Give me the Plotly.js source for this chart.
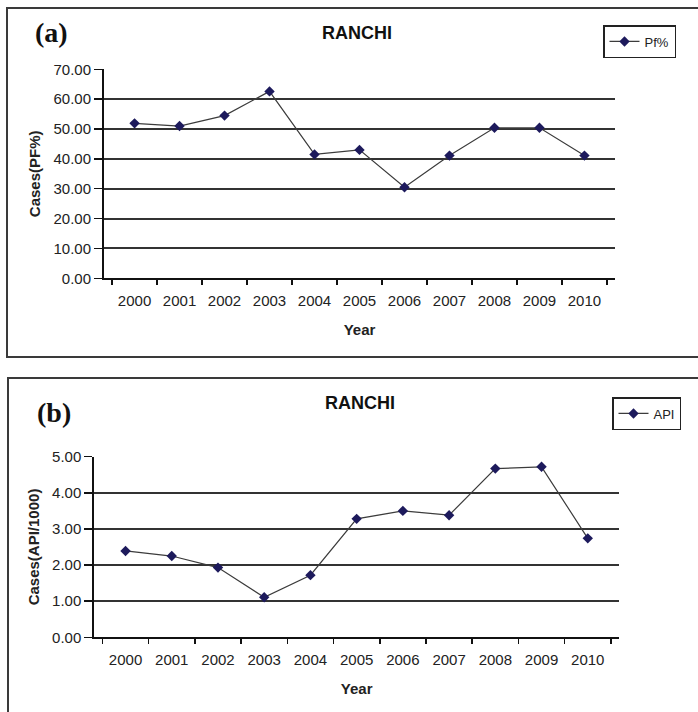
<!DOCTYPE html>
<html>
<head>
<meta charset="utf-8">
<script src="https://cdn.plot.ly/plotly-3.0.1.min.js"></script>
<style>
  html, body { margin: 0; padding: 0; background: #fff; }
  #chart { width: 698px; height: 712px; }
</style>
</head>
<body>
<div id="chart"></div>
<script>
// Ranchi district malaria indicators, 2000-2010
const years = ['2000', '2001', '2002', '2003', '2004', '2005', '2006', '2007', '2008', '2009', '2010'];
const pfPercent = [51.9, 51.0, 54.5, 62.6, 41.5, 43.0, 30.5, 41.1, 50.4, 50.4, 41.1];
const api = [2.39, 2.25, 1.93, 1.11, 1.72, 3.28, 3.50, 3.38, 4.67, 4.72, 2.74];

const W = 698, H = 712;
const px = v => v / W;          // horizontal pixel -> paper
const py = v => 1 - v / H;      // vertical pixel (from top) -> paper

const FONT = 'Liberation Sans, Arial, sans-serif';
const TEXT = '#222';
const markerColor = '#1d1a5c';
const lineColor = '#3c3c3c';

function series(y, name, xa, ya, legend) {
  return {
    x: years, y: y, name: name, type: 'scatter', mode: 'lines+markers',
    xaxis: xa, yaxis: ya, legend: legend, showlegend: true,
    line: { color: lineColor, width: 1.2 },
    marker: { symbol: 'diamond', size: 8, color: markerColor }
  };
}

function xAxis(domain, anchor) {
  return {
    type: 'category', domain: domain, anchor: anchor,
    tickson: 'boundaries', ticks: 'outside', ticklen: 5, tickwidth: 1.5, tickcolor: '#111',
    ticklabelstandoff: 8,
    showline: true, linecolor: '#111', linewidth: 2, showgrid: false, zeroline: false,
    tickfont: { family: FONT, size: 15, color: TEXT },
    title: { text: '<b>Year</b>', font: { family: FONT, size: 15, color: TEXT }, standoff: 16 },
    automargin: true, fixedrange: true
  };
}

function yAxis(domain, anchor, range, dtick, title) {
  return {
    domain: domain, anchor: anchor, range: range, dtick: dtick, tickformat: '.2f',
    ticks: 'outside', ticklen: 8, tickwidth: 1.5, tickcolor: '#111',
    showline: true, linecolor: '#111', linewidth: 2, zeroline: false,
    showgrid: true, gridcolor: '#333', gridwidth: 2,
    tickfont: { family: FONT, size: 15, color: TEXT },
    title: { text: '<b>' + title + '</b>', font: { family: FONT, size: 15, color: TEXT }, standoff: 9 },
    automargin: true, fixedrange: true
  };
}

const data = [
  series(pfPercent, 'Pf%', 'x', 'y', 'legend'),
  series(api, 'API', 'x2', 'y2', 'legend2')
];

const legendStyle = (x, y) => ({
  x: x, y: y, xanchor: 'left', yanchor: 'top',
  bgcolor: '#fff', bordercolor: '#222', borderwidth: 1.5,
  font: { family: FONT, size: 13, color: TEXT },
  tracegroupgap: 0, itemwidth: 30
});

function label(text, x, y, size, family) {
  return {
    text: text, xref: 'paper', yref: 'paper', x: px(x), y: py(y),
    xanchor: 'center', yanchor: 'middle', showarrow: false,
    font: { family: family, size: size, color: '#111' }
  };
}

const layout = {
  width: W, height: H,
  margin: { l: 0, r: 0, t: 0, b: 0, autoexpand: false },
  paper_bgcolor: '#fff', plot_bgcolor: '#fff',
  showlegend: true,
  xaxis: xAxis([px(104), px(615)], 'y'),
  yaxis: yAxis([py(278.3), py(69.3)], 'x', [0, 70], 10, 'Cases(PF%)'),
  xaxis2: xAxis([px(94.3), px(619)], 'y2'),
  yaxis2: yAxis([py(637.3), py(456.7)], 'x2', [0, 5], 1, 'Cases(API/1000)'),
  legend: legendStyle(px(603), py(25)),
  legend2: legendStyle(px(612), py(397)),
  annotations: [
    label('<b>(a)</b>', 51, 32, 28, 'Liberation Serif, Times New Roman, serif'),
    label('<b>(b)</b>', 54, 412, 28, 'Liberation Serif, Times New Roman, serif'),
    label('<b>RANCHI</b>', 357, 33, 18, FONT),
    label('<b>RANCHI</b>', 360, 403, 18, FONT)
  ],
  shapes: [
    { type: 'rect', xref: 'paper', yref: 'paper', x0: px(7), x1: 1.02, y0: py(357), y1: py(8),
      line: { color: '#3a3a3a', width: 2 }, fillcolor: 'rgba(0,0,0,0)', layer: 'below' },
    { type: 'rect', xref: 'paper', yref: 'paper', x0: px(8), x1: 1.02, y0: -0.05, y1: py(378),
      line: { color: '#3a3a3a', width: 2 }, fillcolor: 'rgba(0,0,0,0)', layer: 'below' }
  ]
};

Plotly.newPlot('chart', data, layout, { staticPlot: true, displayModeBar: false });
</script>
</body>
</html>
